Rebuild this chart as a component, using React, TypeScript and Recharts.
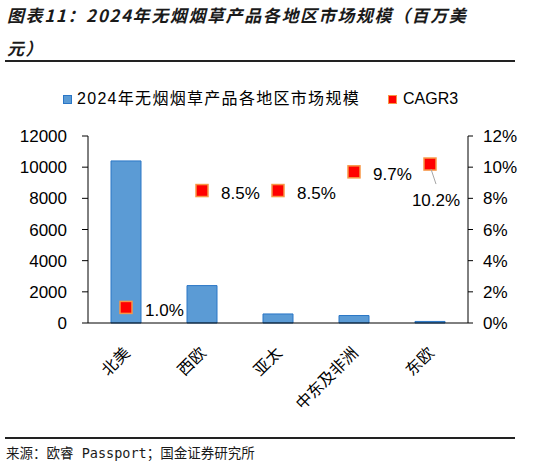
import React from 'react';
import { ComposedChart, Bar, Line, XAxis, YAxis, LabelList } from 'recharts';

// 2024年无烟烟草产品各地区市场规模（百万美元）与 CAGR3
const regions = ['北美', '西欧', '亚太', '中东及非洲', '东欧'];
const marketSize = [10400, 2400, 580, 480, 100];
const cagr3 = [1.0, 8.5, 8.5, 9.7, 10.2];
const leftTicks = [0, 2000, 4000, 6000, 8000, 10000, 12000];
const rightTicks = [0, 2, 4, 6, 8, 10, 12];

const chartData = regions.map((region, i) => ({
  region,
  size: marketSize[i],
  cagr: cagr3[i]
}));

const FONT = '"Liberation Sans", Arial, "Noto Sans CJK SC", sans-serif';
const CJK = '"Noto Sans CJK SC", "Liberation Sans", sans-serif';

const SquareDot = (props: any) => {
  const { cx, cy, index } = props;
  if (cx == null || cy == null) return null;
  return (
    <rect
      key={`dot-${index}`}
      x={cx - 6}
      y={cy - 6}
      width={12}
      height={12}
      fill="#FF0000"
      stroke="#F79646"
      strokeWidth={1.5}
    />
  );
};

const CagrLabel = (props: any) => {
  const { x, y, value, index } = props;
  const text = `${Number(value).toFixed(1)}%`;
  if (index === regions.length - 1) {
    // 最后一个标签放在点下方，带引导线
    return (
      <g>
        <line x1={x + 1} y1={y + 5} x2={x + 6} y2={y + 20} stroke="#A6A6A6" strokeWidth={1} />
        <text x={x + 6} y={y + 36} textAnchor="middle" dominantBaseline="central"
          fill="#000" fontSize={17} fontFamily={FONT}>
          {text}
        </text>
      </g>
    );
  }
  return (
    <text x={x + 19} y={y + 3} dominantBaseline="central" fill="#000" fontSize={17} fontFamily={FONT}>
      {text}
    </text>
  );
};

const RegionTick = (props: any) => {
  const { x, y, payload } = props;
  const tx = x + 5;
  const ty = y + 23;
  return (
    <text x={tx} y={ty} transform={`rotate(-45, ${tx}, ${ty})`} textAnchor="end"
      fill="#000" fontSize={16} fontFamily={CJK}>
      {payload.value}
    </text>
  );
};

export default function App() {
  return (
    <div style={{ position: 'fixed', left: 0, top: 0, width: 540, height: 466, background: '#fff', overflow: 'hidden' }}>
      <ComposedChart
        width={540}
        height={466}
        data={chartData}
        margin={{ top: 136, right: 12, left: 28, bottom: 43 }}
      >
        <XAxis
          dataKey="region"
          height={100}
          axisLine={{ stroke: '#000' }}
          tickLine={false}
          interval={0}
          tick={<RegionTick />}
        />
        <YAxis
          yAxisId="left"
          width={60}
          domain={[0, 12000]}
          ticks={leftTicks}
          interval={0}
          axisLine={{ stroke: '#000' }}
          tickLine={{ stroke: '#000' }}
          tickSize={6}
          tickMargin={15}
          tick={{ fill: '#000', fontSize: 17, fontFamily: FONT }}
        />
        <YAxis
          yAxisId="right"
          orientation="right"
          width={60}
          domain={[0, 12]}
          ticks={rightTicks}
          interval={0}
          tickFormatter={(v: number) => `${v}%`}
          axisLine={{ stroke: '#000' }}
          tickLine={{ stroke: '#000' }}
          tickSize={5}
          tickMargin={10}
          tick={{ fill: '#000', fontSize: 17, fontFamily: FONT }}
        />
        <Bar
          yAxisId="left"
          dataKey="size"
          barSize={30}
          fill="#5B9BD5"
          stroke="#2A76C6"
          strokeWidth={1}
          isAnimationActive={false}
        />
        <Line
          yAxisId="right"
          dataKey="cagr"
          stroke="none"
          dot={<SquareDot />}
          activeDot={false}
          isAnimationActive={false}
        >
          <LabelList dataKey="cagr" content={<CagrLabel />} />
        </Line>
      </ComposedChart>

      {/* 标题 */}
      <div style={{
        position: 'absolute', left: 7, top: -2, fontFamily: CJK, fontSize: 17, fontWeight: 700,
        fontStyle: 'italic', letterSpacing: 1.6, lineHeight: '33px', color: '#1a1a1a', whiteSpace: 'nowrap'
      }}>
        图表11：2024年无烟烟草产品各地区市场规模（百万美<br />元）
      </div>
      <div style={{ position: 'absolute', left: 5, top: 60, width: 510, height: 2, background: '#222' }} />

      {/* 图例 */}
      <div style={{ position: 'absolute', left: 63, top: 95, width: 9, height: 9, background: '#5B9BD5', border: '1px solid #2A76C6', boxSizing: 'border-box' }} />
      <div style={{ position: 'absolute', left: 77, top: 88, fontFamily: FONT, fontSize: 16, lineHeight: '22px', color: '#000', letterSpacing: 1.3, whiteSpace: 'nowrap' }}>
        2024年无烟烟草产品各地区市场规模
      </div>
      <div style={{ position: 'absolute', left: 388, top: 95, width: 9, height: 9, background: '#FF0000', border: '1px solid #F79646', boxSizing: 'border-box' }} />
      <div style={{ position: 'absolute', left: 403, top: 88, fontFamily: FONT, fontSize: 16, lineHeight: '22px', color: '#000', whiteSpace: 'nowrap' }}>
        CAGR3
      </div>

      {/* 来源 */}
      <div style={{ position: 'absolute', left: 5, top: 437, width: 510, height: 2, background: '#222' }} />
      <div style={{ position: 'absolute', left: 6, top: 443, fontFamily: '"DejaVu Sans Mono", "Noto Sans CJK SC", monospace', fontSize: 13.5, lineHeight: '20px', color: '#1a1a1a', whiteSpace: 'nowrap' }}>
        来源：欧睿 Passport；国金证券研究所
      </div>
    </div>
  );
}
